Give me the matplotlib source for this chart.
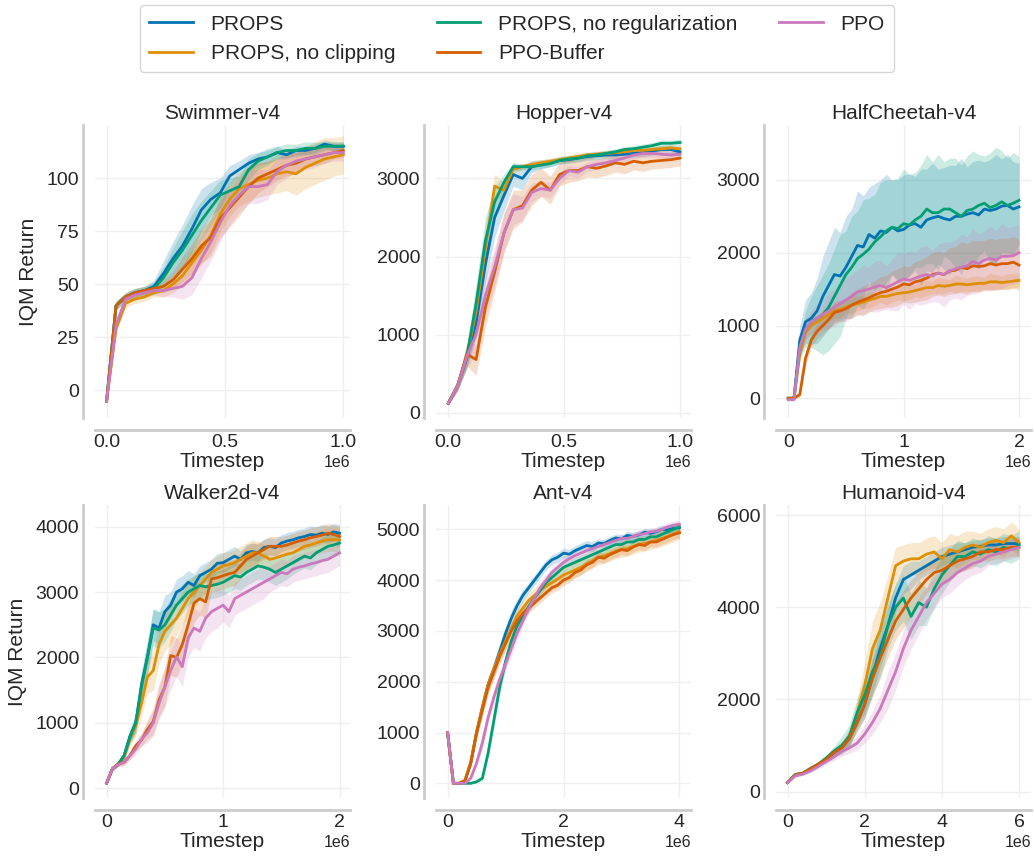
import numpy as np
import matplotlib
matplotlib.use("Agg")
import matplotlib.pyplot as plt

# ---------------- data ----------------
methods = ["PROPS", "PROPS, no clipping", "PROPS, no regularization", "PPO-Buffer", "PPO"]
colors = ["#0173b2", "#de8f05", "#029e73", "#d55e00", "#cc78bc"]
envs = ["Swimmer-v4", "Hopper-v4", "HalfCheetah-v4", "Walker2d-v4", "Ant-v4", "Humanoid-v4"]

# Swimmer: timesteps 0 .. 1e6 in 26 evaluations
sw_steps = (0.0, 1.0e6, 26)
sw_props = [-5, 40, 44, 46, 47, 49, 55, 62, 68, 76, 85, 90, 93, 101, 104, 107, 109, 110, 112, 111, 113, 113, 114, 116, 115, 115]
sw_noclip = [-5, 29, 41, 43, 44, 46, 47, 50, 54, 60, 66, 73, 83, 90, 95, 97, 99, 100, 102, 103, 102, 105, 107, 109, 110, 111]
sw_noreg = [-5, 40, 44, 46, 47, 48, 53, 60, 66, 73, 80, 86, 92, 94, 96, 104, 108, 110, 112, 113, 113, 114, 114, 115, 115, 115]
sw_buffer = [-5, 40, 44, 46, 47, 48, 49, 52, 57, 62, 68, 72, 81, 86, 91, 96, 100, 102, 104, 106, 107, 109, 110, 111, 112, 113]
sw_ppo = [-5, 31, 43, 45, 46, 47, 47, 48, 49, 53, 62, 70, 79, 87, 92, 96, 96, 97, 103, 106, 108, 109, 110, 111, 112, 112]
sw_props_err = [1, 2, 2, 2, 2, 3, 6, 8, 10, 11, 10, 8, 7, 5, 4, 4, 3, 3, 3, 2, 2, 2, 2, 2, 2, 2]
sw_noclip_err = [1, 2, 2, 2, 2, 2, 3, 4, 5, 6, 7, 8, 8, 8, 8, 8, 8, 8, 9, 9, 10, 10, 10, 10, 9, 9]
sw_noreg_err = [1, 2, 2, 2, 2, 3, 5, 7, 9, 10, 9, 8, 7, 6, 5, 5, 4, 4, 3, 3, 3, 3, 3, 2, 2, 2]
sw_buffer_err = [1, 2, 2, 2, 2, 2, 3, 4, 6, 7, 8, 9, 9, 9, 9, 8, 7, 6, 5, 5, 5, 4, 4, 4, 3, 3]
sw_ppo_err = [1, 2, 2, 2, 2, 2, 3, 4, 6, 8, 9, 9, 9, 9, 8, 8, 8, 7, 6, 6, 5, 5, 5, 4, 4, 4]

# Hopper: 0 .. 1e6, 26 evaluations
hop_steps = (0.0, 1.0e6, 26)
hop_props = [120, 340, 700, 1150, 1900, 2500, 2780, 3050, 3000, 3150, 3180, 3200, 3230, 3240, 3260, 3280, 3290, 3300, 3300, 3310, 3320, 3330, 3350, 3370, 3370, 3340]
hop_noclip = [120, 350, 720, 1300, 2100, 2900, 2850, 3120, 3150, 3180, 3200, 3220, 3240, 3260, 3280, 3300, 3310, 3320, 3330, 3340, 3360, 3360, 3370, 3380, 3390, 3380]
hop_noreg = [120, 350, 720, 1400, 2200, 2700, 2950, 3150, 3150, 3150, 3170, 3190, 3230, 3250, 3260, 3290, 3300, 3320, 3340, 3370, 3380, 3400, 3420, 3450, 3450, 3460]
hop_buffer = [120, 340, 750, 680, 1350, 1800, 2300, 2600, 2650, 2850, 2950, 2850, 3050, 3100, 3100, 3150, 3130, 3160, 3200, 3180, 3220, 3200, 3220, 3230, 3240, 3260]
hop_ppo = [120, 340, 720, 1000, 1500, 1870, 2300, 2600, 2620, 2820, 2870, 2850, 3000, 3100, 3080, 3150, 3180, 3200, 3230, 3260, 3300, 3320, 3320, 3310, 3300, 3310]
hop_props_err = [20, 60, 120, 200, 250, 250, 200, 150, 150, 80, 60, 50, 50, 50, 50, 50, 50, 50, 50, 50, 50, 50, 50, 50, 50, 50]
hop_noclip_err = [20, 60, 150, 250, 300, 150, 100, 50, 40, 40, 40, 40, 40, 40, 40, 40, 40, 40, 40, 40, 40, 40, 40, 40, 40, 40]
hop_noreg_err = [20, 60, 150, 250, 300, 200, 100, 50, 40, 40, 40, 40, 40, 40, 40, 40, 40, 40, 40, 40, 40, 40, 40, 40, 40, 40]
hop_buffer_err = [20, 60, 150, 200, 250, 250, 250, 250, 200, 200, 180, 180, 150, 150, 130, 130, 120, 120, 120, 120, 110, 110, 100, 100, 100, 100]
hop_ppo_err = [20, 60, 150, 250, 250, 250, 250, 200, 150, 120, 100, 100, 80, 70, 70, 60, 60, 50, 50, 50, 50, 50, 50, 50, 50, 50]

# HalfCheetah: 0 .. 2e6, 41 evaluations
hc_steps = (0.0, 2.0e6, 41)
hc_props = [0, 0, 800, 1050, 1100, 1200, 1400, 1550, 1700, 1680, 1800, 1950, 2100, 2080, 2250, 2200, 2300, 2280, 2350, 2300, 2320, 2380, 2400, 2350, 2450, 2480, 2500, 2470, 2450, 2500, 2500, 2530, 2550, 2520, 2600, 2580, 2600, 2640, 2650, 2600, 2630]
hc_noclip = [0, 0, 600, 900, 1000, 1050, 1100, 1150, 1200, 1220, 1250, 1280, 1300, 1320, 1350, 1370, 1400, 1400, 1420, 1440, 1450, 1460, 1480, 1500, 1520, 1520, 1550, 1540, 1550, 1570, 1570, 1560, 1570, 1580, 1580, 1600, 1600, 1590, 1600, 1610, 1620]
hc_noreg = [0, 0, 700, 950, 1050, 1100, 1150, 1250, 1400, 1550, 1700, 1800, 1920, 1980, 2050, 2150, 2220, 2300, 2350, 2330, 2400, 2380, 2450, 2500, 2600, 2550, 2550, 2600, 2600, 2550, 2500, 2580, 2600, 2650, 2680, 2620, 2650, 2700, 2650, 2680, 2720]
hc_buffer = [0, 0, 50, 550, 800, 920, 1000, 1080, 1180, 1200, 1230, 1280, 1320, 1350, 1380, 1420, 1450, 1470, 1500, 1530, 1570, 1560, 1600, 1620, 1650, 1700, 1720, 1700, 1750, 1760, 1800, 1780, 1820, 1810, 1820, 1850, 1830, 1850, 1850, 1870, 1830]
hc_ppo = [-20, -20, 700, 950, 1050, 1100, 1150, 1200, 1250, 1300, 1350, 1400, 1460, 1480, 1500, 1530, 1550, 1520, 1560, 1600, 1640, 1620, 1650, 1680, 1700, 1680, 1720, 1700, 1750, 1780, 1800, 1820, 1880, 1850, 1900, 1920, 1900, 1950, 1950, 1960, 2000]
hc_props_err = [0, 20, 200, 300, 350, 450, 550, 600, 650, 600, 700, 650, 750, 700, 650, 750, 700, 800, 650, 700, 750, 700, 650, 800, 700, 750, 650, 700, 750, 700, 800, 650, 700, 750, 650, 700, 750, 650, 700, 650, 600]
hc_noclip_err = [0, 20, 100, 90, 110, 80, 120, 90, 100, 110, 80, 120, 100, 90, 110, 100, 80, 120, 100, 90, 110, 100, 80, 120, 100, 90, 110, 100, 80, 120, 100, 90, 110, 100, 80, 120, 100, 90, 110, 100, 90]
hc_noreg_err = [0, 20, 150, 250, 350, 450, 550, 600, 650, 700, 600, 700, 650, 750, 700, 650, 750, 700, 650, 700, 750, 700, 650, 700, 750, 700, 800, 650, 700, 750, 700, 750, 800, 700, 650, 750, 800, 700, 650, 700, 600]
hc_buffer_err = [0, 20, 30, 100, 100, 100, 120, 120, 150, 150, 150, 180, 180, 200, 200, 200, 220, 220, 250, 250, 250, 250, 280, 280, 300, 300, 300, 300, 320, 320, 350, 350, 350, 350, 350, 350, 350, 350, 350, 350, 350]
hc_ppo_err = [0, 20, 100, 150, 150, 200, 200, 250, 250, 250, 300, 300, 300, 350, 300, 350, 350, 300, 350, 400, 350, 400, 350, 400, 400, 350, 400, 450, 400, 400, 450, 400, 450, 400, 400, 450, 400, 450, 400, 400, 400]

# Walker2d: 0 .. 2e6, 41 evaluations
w_steps = (0.0, 2.0e6, 41)
w_props = [80, 300, 370, 500, 800, 1000, 1600, 2000, 2500, 2450, 2700, 2800, 3000, 3050, 3150, 3100, 3250, 3300, 3350, 3440, 3450, 3500, 3550, 3500, 3600, 3620, 3600, 3680, 3700, 3680, 3750, 3780, 3800, 3830, 3850, 3880, 3870, 3900, 3880, 3920, 3900]
w_noclip = [80, 300, 370, 480, 750, 950, 1300, 1700, 1800, 2200, 2400, 2500, 2600, 2750, 2900, 3000, 3100, 3200, 3300, 3350, 3400, 3420, 3450, 3500, 3550, 3600, 3600, 3550, 3500, 3520, 3550, 3580, 3600, 3650, 3700, 3720, 3750, 3780, 3800, 3800, 3800]
w_noreg = [80, 300, 370, 500, 780, 1000, 1550, 2000, 2450, 2420, 2500, 2650, 2800, 2900, 3000, 3050, 3100, 3080, 3100, 3120, 3150, 3200, 3250, 3230, 3300, 3350, 3400, 3380, 3350, 3300, 3350, 3400, 3450, 3500, 3550, 3520, 3600, 3650, 3700, 3720, 3750]
w_buffer = [80, 300, 370, 400, 500, 650, 740, 900, 1020, 1350, 1550, 2030, 2000, 2200, 2500, 2830, 2900, 2850, 3200, 3220, 3250, 3280, 3300, 3400, 3500, 3550, 3600, 3650, 3700, 3700, 3700, 3720, 3750, 3780, 3800, 3830, 3850, 3870, 3900, 3880, 3850]
w_ppo = [80, 300, 360, 400, 500, 600, 750, 850, 1000, 1300, 1550, 1800, 2010, 1860, 2300, 2450, 2400, 2600, 2700, 2750, 2800, 2700, 2900, 2950, 3000, 3050, 3100, 3150, 3200, 3250, 3300, 3280, 3350, 3380, 3400, 3430, 3450, 3480, 3500, 3550, 3600]
w_props_err = [20, 30, 30, 60, 100, 150, 200, 250, 250, 250, 250, 200, 200, 200, 180, 180, 150, 150, 150, 150, 150, 150, 150, 130, 130, 130, 130, 130, 130, 130, 130, 130, 130, 130, 130, 130, 130, 130, 130, 130, 130]
w_noclip_err = [20, 30, 30, 60, 100, 150, 200, 250, 300, 300, 300, 300, 250, 250, 250, 250, 200, 200, 200, 200, 200, 200, 200, 200, 200, 200, 180, 180, 180, 180, 180, 180, 180, 180, 180, 180, 180, 180, 180, 180, 180]
w_noreg_err = [20, 30, 30, 60, 100, 150, 200, 250, 280, 280, 250, 250, 220, 220, 200, 200, 200, 200, 200, 200, 200, 200, 200, 200, 200, 200, 200, 200, 200, 200, 200, 200, 180, 180, 180, 180, 180, 180, 180, 180, 180]
w_buffer_err = [20, 30, 30, 50, 60, 80, 100, 150, 200, 250, 300, 300, 300, 300, 300, 300, 250, 250, 200, 200, 200, 200, 200, 200, 200, 200, 150, 150, 150, 150, 150, 150, 150, 150, 150, 150, 150, 150, 150, 150, 150]
w_ppo_err = [20, 30, 30, 50, 60, 80, 100, 150, 200, 250, 300, 300, 300, 300, 300, 300, 300, 300, 300, 300, 250, 250, 250, 250, 250, 250, 250, 250, 200, 200, 200, 200, 200, 200, 200, 200, 200, 200, 200, 200, 200]

# Ant: 0 .. 4e6, 41 evaluations
ant_steps = (0.0, 4.0e6, 41)
ant_props = [1000, 0, 0, 50, 400, 1000, 1500, 1950, 2250, 2600, 2950, 3250, 3500, 3700, 3850, 4000, 4150, 4300, 4400, 4450, 4530, 4510, 4580, 4630, 4680, 4660, 4730, 4720, 4780, 4830, 4810, 4880, 4860, 4890, 4940, 4920, 4950, 5000, 4990, 5020, 5030]
ant_noclip = [1000, 0, 0, 60, 420, 1000, 1500, 1950, 2250, 2550, 2800, 3050, 3300, 3450, 3600, 3700, 3800, 3880, 3950, 4020, 4100, 4150, 4200, 4250, 4320, 4380, 4450, 4480, 4520, 4570, 4600, 4620, 4660, 4700, 4720, 4750, 4780, 4820, 4860, 4900, 4950]
ant_noreg = [1000, 0, 0, 0, 0, 30, 100, 600, 1250, 1900, 2400, 2800, 3100, 3300, 3480, 3650, 3800, 3950, 4050, 4150, 4250, 4300, 4350, 4400, 4450, 4500, 4550, 4600, 4650, 4700, 4700, 4750, 4750, 4800, 4800, 4850, 4850, 4900, 4950, 5000, 5050]
ant_buffer = [1000, 0, 0, 50, 400, 1000, 1450, 1900, 2200, 2500, 2750, 3000, 3200, 3350, 3450, 3550, 3650, 3750, 3850, 3900, 4000, 4050, 4150, 4200, 4300, 4350, 4450, 4430, 4500, 4550, 4600, 4580, 4650, 4700, 4680, 4750, 4750, 4800, 4850, 4900, 4930]
ant_ppo = [1000, 0, 0, 0, 100, 400, 800, 1300, 1700, 2050, 2350, 2650, 2950, 3200, 3450, 3650, 3850, 4000, 4150, 4250, 4350, 4420, 4480, 4530, 4580, 4620, 4660, 4700, 4740, 4780, 4820, 4820, 4860, 4900, 4910, 4950, 4960, 5000, 5050, 5080, 5100]
ant_props_err = [10, 20, 10, 30, 80, 120, 150, 150, 150, 150, 150, 150, 130, 120, 100, 100, 100, 100, 100, 100, 100, 100, 100, 100, 100, 100, 80, 80, 80, 80, 80, 80, 80, 80, 80, 80, 80, 80, 80, 80, 80]
ant_noclip_err = [10, 20, 10, 30, 80, 120, 150, 150, 150, 150, 150, 150, 150, 150, 150, 150, 150, 150, 150, 150, 150, 150, 150, 150, 150, 150, 150, 150, 150, 150, 150, 150, 150, 150, 150, 150, 150, 150, 150, 150, 150]
ant_noreg_err = [10, 20, 10, 10, 10, 20, 50, 100, 150, 150, 150, 150, 130, 120, 100, 100, 100, 100, 100, 100, 100, 100, 100, 100, 100, 100, 80, 80, 80, 80, 80, 80, 80, 80, 80, 80, 80, 80, 80, 80, 80]
ant_buffer_err = [10, 20, 10, 30, 80, 120, 150, 150, 150, 150, 150, 150, 130, 120, 100, 100, 100, 100, 100, 100, 100, 100, 100, 100, 100, 100, 100, 100, 100, 100, 100, 100, 100, 100, 100, 100, 100, 100, 100, 100, 100]
ant_ppo_err = [10, 20, 10, 10, 40, 80, 120, 150, 150, 150, 150, 150, 130, 120, 100, 100, 100, 100, 100, 100, 100, 100, 100, 100, 100, 100, 80, 80, 80, 80, 80, 80, 80, 80, 80, 80, 80, 80, 80, 80, 80]

# Humanoid: 0 .. 6e6, 31 evaluations
hu_steps = (0.0, 6.0e6, 31)
hu_props = [200, 370, 400, 500, 580, 700, 850, 950, 1150, 1500, 1900, 2500, 3100, 3600, 4200, 4600, 4700, 4800, 4900, 5000, 5100, 5150, 5200, 5250, 5300, 5320, 5350, 5350, 5380, 5380, 5380]
hu_noclip = [200, 370, 410, 500, 600, 720, 870, 980, 1200, 1700, 2300, 3100, 3500, 4200, 4900, 5000, 5050, 5050, 5150, 5200, 5050, 5250, 5200, 5300, 5350, 5300, 5400, 5450, 5400, 5550, 5400]
hu_noreg = [200, 370, 400, 510, 600, 730, 880, 1000, 1200, 1700, 2100, 2600, 2950, 3600, 4000, 4200, 3800, 4100, 4000, 4400, 4700, 4900, 5100, 5100, 5200, 5150, 5250, 5200, 5300, 5250, 5350]
hu_buffer = [200, 360, 400, 500, 600, 700, 850, 950, 1150, 1500, 1900, 2450, 2900, 3300, 3700, 3950, 4200, 4400, 4600, 4750, 4800, 4900, 5000, 5050, 5100, 5200, 5200, 5250, 5250, 5300, 5300]
hu_ppo = [200, 340, 380, 450, 550, 650, 750, 870, 950, 1050, 1250, 1500, 1800, 2200, 2600, 3100, 3500, 3800, 4100, 4300, 4500, 4600, 4750, 4850, 4950, 5000, 5100, 5150, 5200, 5250, 5300]
hu_props_err = [20, 20, 30, 40, 50, 60, 80, 100, 150, 200, 300, 400, 400, 400, 300, 300, 300, 200, 200, 200, 200, 200, 200, 150, 150, 150, 150, 150, 150, 150, 150]
hu_noclip_err = [20, 20, 30, 40, 50, 60, 80, 100, 150, 300, 500, 600, 600, 500, 400, 350, 350, 350, 350, 350, 350, 350, 350, 350, 300, 300, 300, 300, 300, 300, 300]
hu_noreg_err = [20, 20, 30, 40, 50, 60, 100, 200, 250, 300, 400, 500, 500, 500, 500, 500, 500, 500, 400, 400, 400, 350, 350, 300, 300, 300, 300, 300, 300, 300, 300]
hu_buffer_err = [20, 20, 30, 40, 50, 60, 80, 100, 150, 200, 300, 400, 400, 400, 400, 400, 400, 350, 300, 300, 300, 300, 250, 250, 250, 200, 200, 200, 200, 200, 200]
hu_ppo_err = [20, 20, 30, 40, 50, 60, 80, 100, 120, 150, 200, 250, 300, 400, 400, 400, 400, 400, 350, 350, 300, 300, 300, 250, 250, 250, 200, 200, 200, 200, 200]

# tick labels / limits per panel
xticks = [[0, 0.5e6, 1.0e6], [0, 0.5e6, 1.0e6], [0, 1e6, 2e6], [0, 1e6, 2e6], [0, 2e6, 4e6], [0, 2e6, 4e6, 6e6]]
yticks = [[0, 25, 50, 75, 100], [0, 1000, 2000, 3000], [0, 1000, 2000, 3000],
          [0, 1000, 2000, 3000, 4000], [0, 1000, 2000, 3000, 4000, 5000], [0, 2000, 4000, 6000]]
xlims = [(-0.049e6, 1.028e6), (-0.053e6, 1.047e6), (-0.106e6, 2.104e6), (-0.10e6, 2.09e6), (-0.2e6, 4.2e6), (-0.3e6, 6.31e6)]
ylims = [(-13, 125), (-68, 3684), (-271, 3755), (-148, 4331), (-289, 5478), (-137, 6217)]

panel_steps = [sw_steps, hop_steps, hc_steps, w_steps, ant_steps, hu_steps]
panel_means = [
    [sw_props, sw_noclip, sw_noreg, sw_buffer, sw_ppo],
    [hop_props, hop_noclip, hop_noreg, hop_buffer, hop_ppo],
    [hc_props, hc_noclip, hc_noreg, hc_buffer, hc_ppo],
    [w_props, w_noclip, w_noreg, w_buffer, w_ppo],
    [ant_props, ant_noclip, ant_noreg, ant_buffer, ant_ppo],
    [hu_props, hu_noclip, hu_noreg, hu_buffer, hu_ppo],
]
panel_errs = [
    [sw_props_err, sw_noclip_err, sw_noreg_err, sw_buffer_err, sw_ppo_err],
    [hop_props_err, hop_noclip_err, hop_noreg_err, hop_buffer_err, hop_ppo_err],
    [hc_props_err, hc_noclip_err, hc_noreg_err, hc_buffer_err, hc_ppo_err],
    [w_props_err, w_noclip_err, w_noreg_err, w_buffer_err, w_ppo_err],
    [ant_props_err, ant_noclip_err, ant_noreg_err, ant_buffer_err, ant_ppo_err],
    [hu_props_err, hu_noclip_err, hu_noreg_err, hu_buffer_err, hu_ppo_err],
]

# ---------------- style ----------------
plt.rcParams["font.family"] = ["Liberation Sans", "DejaVu Sans"]
plt.rcParams["text.color"] = "#262626"
plt.rcParams["axes.labelcolor"] = "#262626"
plt.rcParams["xtick.color"] = "#262626"
plt.rcParams["ytick.color"] = "#262626"

W, H = 1034, 857
fig = plt.figure(figsize=(W / 100, H / 100), dpi=100)

col_left = [95, 436, 776]
row_top = [125, 505]
ax_w, ax_h = 255, 293

axes = []
for i in range(6):
    r, c = divmod(i, 3)
    left = col_left[c] / W
    bottom = 1 - (row_top[r] + ax_h) / H
    ax = fig.add_axes([left, bottom, ax_w / W, ax_h / H])
    axes.append(ax)

lines_for_legend = []
for i, ax in enumerate(axes):
    s0, s1, n = panel_steps[i]
    x = np.linspace(s0, s1, n)
    for j in range(5):
        m = np.asarray(panel_means[i][j], float)
        e = np.asarray(panel_errs[i][j], float)
        ax.fill_between(x, m - e, m + e, color=colors[j], alpha=0.2, lw=0)
        ln, = ax.plot(x, m, color=colors[j], lw=2, label=methods[j])
        if i == 0:
            lines_for_legend.append(ln)
    ax.set_xlim(*xlims[i])
    ax.set_ylim(*ylims[i])
    ax.set_xticks(xticks[i])
    ax.set_yticks(yticks[i])
    ax.grid(True, color="#efefef", lw=1)
    ax.set_axisbelow(True)
    for sp in ["top", "right"]:
        ax.spines[sp].set_visible(False)
    for sp in ["left", "bottom"]:
        ax.spines[sp].set_position(("outward", 8.5))
        ax.spines[sp].set_color("#cccccc")
        ax.spines[sp].set_linewidth(2)
    ax.tick_params(axis="both", length=0, labelsize=14, pad=3)
    ax.xaxis.get_offset_text().set_fontsize(11.5)
    ax.set_title(envs[i], fontsize=15, pad=4)
    ax.set_xlabel("Timestep", fontsize=15, labelpad=1)
    if i % 3 == 0:
        ax.set_ylabel("IQM Return", fontsize=15, labelpad=6)

leg = fig.legend(handles=lines_for_legend, labels=methods, loc="upper center",
                 bbox_to_anchor=(0.5, 1.0), ncol=3, fontsize=15, frameon=True,
                 handlelength=2.1, handletextpad=0.85, columnspacing=2.0,
                 labelspacing=0.5, borderpad=0.45, borderaxespad=0.25)
leg.get_frame().set_edgecolor("#cccccc")
leg.get_frame().set_linewidth(1)

fig.savefig("out.png", dpi=100)
